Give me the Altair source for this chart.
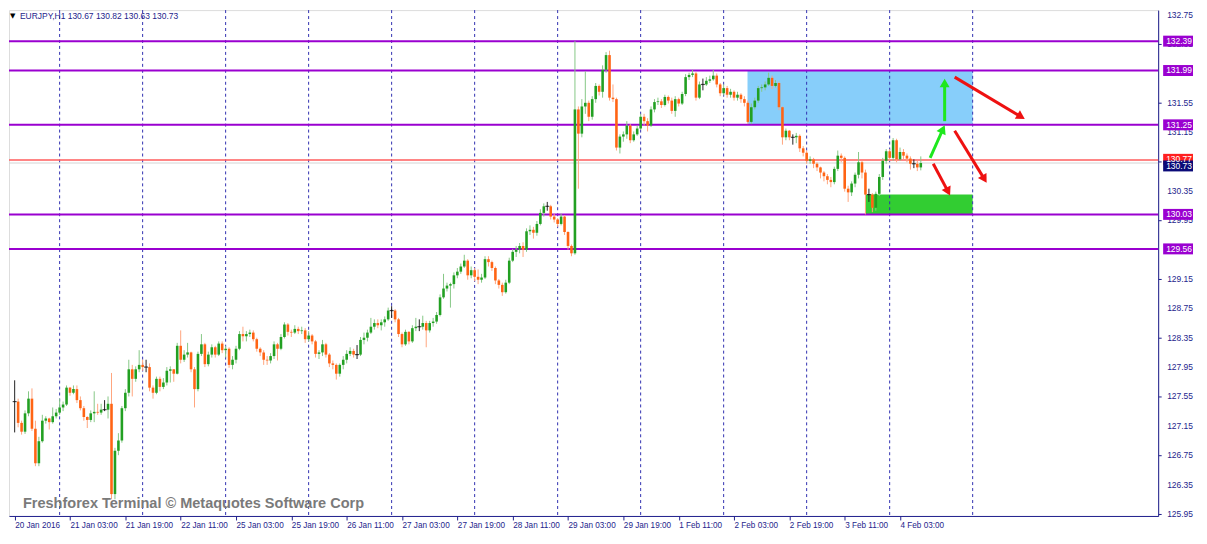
import altair as alt
import pandas as pd

# ---------------- data (EURJPY H1, 20 Jan 11:00 .. 4 Feb 09:00) -------------
closes = [
    127.48, 127.19, 127.07, 127.32, 127.52, 127.11, 126.64, 126.94, 127.22, 127.25,
    127.20, 127.28, 127.33, 127.40, 127.44, 127.67, 127.60, 127.65, 127.50, 127.39,
    127.27, 127.23, 127.32, 127.34, 127.33, 127.37, 127.37, 127.45, 126.22, 126.81,
    126.95, 127.39, 127.60, 127.92, 127.79, 127.92, 127.98, 127.95, 127.95, 127.67,
    127.60, 127.79, 127.68, 127.74, 127.90, 127.92, 127.86, 128.24, 128.05, 128.12,
    128.15, 127.92, 127.65, 128.13, 128.26, 127.99, 128.12, 128.22, 128.12, 128.27,
    128.18, 128.20, 127.98, 128.05, 128.20, 128.40, 128.37, 128.40, 128.42, 128.33,
    128.20, 128.15, 128.05, 128.04, 128.10, 128.26, 128.20, 128.36, 128.53, 128.43,
    128.42, 128.47, 128.44, 128.45, 128.33, 128.38, 128.30, 128.13, 128.15, 128.26,
    128.12, 128.00, 127.98, 127.86, 127.98, 128.05, 128.13, 128.17, 128.12, 128.12,
    128.32, 128.35, 128.42, 128.50, 128.55, 128.52, 128.56, 128.60, 128.72, 128.72,
    128.60, 128.40, 128.26, 128.43, 128.30, 128.48, 128.50, 128.50, 128.55, 128.45,
    128.55, 128.57, 128.66, 128.90, 129.02, 129.06, 129.08, 129.20, 129.25, 129.32,
    129.40, 129.20, 129.27, 129.18, 129.14, 129.17, 129.42, 129.38, 129.30, 129.13,
    129.07, 128.97, 129.10, 129.40, 129.52, 129.55, 129.60, 129.55, 129.80, 129.82,
    129.78, 129.90, 130.05, 130.14, 130.14, 130.00, 129.96, 129.90, 130.00, 129.79,
    129.60, 129.50, 131.46, 131.13, 131.50, 131.55, 131.36, 131.60, 131.78, 131.70,
    132.00, 132.20, 131.62, 131.60, 130.94, 131.09, 131.12, 131.24, 131.04, 131.12,
    131.20, 131.36, 131.30, 131.24, 131.46, 131.56, 131.57, 131.52, 131.63, 131.58,
    131.44, 131.60, 131.54, 131.67, 131.90, 131.93, 131.95, 131.62, 131.80, 131.80,
    131.85, 131.87, 131.92, 131.80, 131.68, 131.75, 131.66, 131.70, 131.62, 131.66,
    131.60, 131.55, 131.29, 131.49, 131.58, 131.75, 131.76, 131.80, 131.89, 131.78,
    131.82, 131.49, 131.08, 131.17, 131.08, 131.08, 131.10, 130.93, 130.87, 130.76,
    130.78, 130.72, 130.67, 130.60, 130.55, 130.50, 130.47, 130.65, 130.83, 130.80,
    130.38, 130.33, 130.45, 130.57, 130.74, 130.60, 130.30, 130.30, 130.12, 130.31,
    130.54, 130.76, 130.89, 130.80, 131.04, 130.78, 130.88, 130.83, 130.79, 130.72,
    130.72, 130.67, 130.73,
]
highs = [
    127.77, 127.52, 127.22, 127.36, 127.62, 127.66, 127.22, 127.00, 127.30, 127.28,
    127.26, 127.40, 127.38, 127.52, 127.48, 127.70, 127.68, 127.70, 127.70, 127.55,
    127.42, 127.28, 127.36, 127.62, 127.45, 127.45, 127.50, 127.55, 127.87, 126.85,
    127.05, 127.42, 127.65, 128.05, 127.98, 127.96, 128.18, 128.05, 128.05, 128.00,
    127.70, 127.82, 127.82, 127.80, 127.95, 127.96, 127.92, 128.28, 128.45, 128.18,
    128.28, 128.16, 127.95, 128.16, 128.40, 128.28, 128.16, 128.26, 128.24, 128.30,
    128.30, 128.24, 128.22, 128.10, 128.24, 128.44, 128.50, 128.44, 128.46, 128.45,
    128.35, 128.22, 128.18, 128.10, 128.14, 128.30, 128.28, 128.40, 128.56, 128.55,
    128.46, 128.52, 128.50, 128.50, 128.48, 128.44, 128.40, 128.32, 128.18, 128.32,
    128.28, 128.14, 128.04, 128.00, 128.00, 128.10, 128.18, 128.22, 128.20, 128.25,
    128.36, 128.42, 128.46, 128.62, 128.60, 128.60, 128.60, 128.64, 128.76, 128.78,
    128.74, 128.62, 128.42, 128.46, 128.44, 128.52, 128.62, 128.60, 128.65, 128.58,
    128.58, 128.62, 128.70, 128.94, 129.22, 129.10, 129.10, 129.24, 129.30, 129.36,
    129.48, 129.42, 129.32, 129.30, 129.28, 129.22, 129.46, 129.46, 129.40, 129.32,
    129.15, 129.10, 129.14, 129.44, 129.56, 129.60, 129.64, 129.65, 129.84, 129.88,
    129.86, 129.94, 130.10, 130.18, 130.20, 130.16, 130.04, 129.98, 130.04, 130.02,
    129.80, 129.62, 132.39, 131.50, 131.60, 131.98, 131.58, 131.64, 131.82, 131.80,
    132.06, 132.24, 132.26, 131.80, 131.62, 131.12, 131.16, 131.30, 131.26, 131.16,
    131.24, 131.40, 131.40, 131.34, 131.50, 131.60, 131.62, 131.60, 131.66, 131.65,
    131.62, 131.64, 131.62, 131.70, 131.94, 131.96, 132.00, 131.97, 131.84, 131.88,
    131.90, 131.92, 132.00, 131.95, 131.82, 131.80, 131.78, 131.74, 131.72, 131.70,
    131.68, 131.64, 131.58, 131.54, 131.62, 131.78, 131.80, 131.84, 131.96, 131.92,
    131.86, 131.84, 131.50, 131.20, 131.18, 131.12, 131.14, 131.12, 130.96, 130.90,
    130.82, 130.80, 130.74, 130.68, 130.62, 130.58, 130.54, 130.68, 130.90, 130.86,
    130.82, 130.42, 130.48, 130.60, 130.88, 130.76, 130.64, 130.38, 130.32, 130.34,
    130.58, 130.80, 130.92, 130.92, 131.07, 131.06, 130.94, 130.92, 130.86, 130.82,
    130.78, 130.76, 130.82,
]
lows = [
    127.06, 127.13, 127.03, 127.04, 127.28, 127.08, 126.60, 126.60, 126.92, 127.18,
    127.10, 127.18, 127.25, 127.30, 127.35, 127.42, 127.56, 127.58, 127.46, 127.36,
    127.22, 127.12, 127.20, 127.20, 127.30, 127.30, 127.35, 127.25, 126.15, 126.15,
    126.75, 126.92, 127.35, 127.55, 127.55, 127.75, 127.88, 127.90, 127.88, 127.62,
    127.52, 127.58, 127.62, 127.65, 127.70, 127.74, 127.75, 127.85, 128.00, 128.02,
    128.08, 127.88, 127.40, 127.62, 128.10, 127.95, 127.96, 128.08, 128.08, 128.10,
    128.14, 128.08, 127.94, 127.92, 128.00, 128.18, 128.30, 128.30, 128.36, 128.30,
    128.16, 128.10, 127.98, 127.98, 128.00, 128.06, 128.04, 128.18, 128.34, 128.38,
    128.36, 128.40, 128.40, 128.40, 128.28, 128.30, 128.26, 128.08, 128.06, 128.10,
    128.08, 127.95, 127.92, 127.78, 127.82, 127.92, 128.00, 128.10, 128.08, 128.06,
    128.10, 128.26, 128.30, 128.40, 128.46, 128.48, 128.45, 128.50, 128.58, 128.62,
    128.56, 128.36, 128.22, 128.24, 128.26, 128.28, 128.44, 128.44, 128.46, 128.22,
    128.42, 128.50, 128.54, 128.64, 128.88, 128.98, 128.76, 129.02, 129.16, 129.22,
    129.30, 129.14, 129.16, 129.12, 129.08, 129.10, 129.15, 129.32, 129.26, 129.08,
    129.02, 128.92, 128.95, 129.08, 129.38, 129.45, 129.50, 129.45, 129.52, 129.75,
    129.70, 129.74, 129.88, 130.00, 130.08, 129.96, 129.92, 129.86, 129.88, 129.75,
    129.55, 129.46, 129.48, 130.38, 131.08, 131.40, 131.30, 131.32, 131.55, 131.65,
    131.62, 131.96, 131.58, 131.56, 130.90, 130.86, 131.02, 131.06, 131.00, 131.02,
    131.10, 131.18, 131.24, 131.16, 131.22, 131.42, 131.52, 131.48, 131.50, 131.54,
    131.40, 131.36, 131.50, 131.52, 131.64, 131.86, 131.90, 131.58, 131.60, 131.72,
    131.78, 131.82, 131.85, 131.76, 131.64, 131.65, 131.62, 131.62, 131.58, 131.58,
    131.55, 131.50, 131.26, 131.26, 131.46, 131.55, 131.70, 131.72, 131.78, 131.74,
    131.76, 131.45, 130.98, 131.04, 131.04, 130.98, 131.00, 130.88, 130.82, 130.72,
    130.72, 130.66, 130.62, 130.52, 130.48, 130.44, 130.40, 130.44, 130.62, 130.74,
    130.34, 130.20, 130.28, 130.40, 130.52, 130.52, 130.03, 130.20, 130.06, 130.08,
    130.28, 130.50, 130.72, 130.76, 130.76, 130.74, 130.76, 130.78, 130.74, 130.64,
    130.66, 130.62, 130.63,
]

x_tick_bars = [0, 16, 32, 48, 64, 80, 96, 112, 128, 144, 160, 176, 192, 208, 224, 240, 256]
x_tick_labels = ["20 Jan 2016", "21 Jan 03:00", "21 Jan 19:00", "22 Jan 11:00", "25 Jan 03:00",
                 "25 Jan 19:00", "26 Jan 11:00", "27 Jan 03:00", "27 Jan 19:00", "28 Jan 11:00",
                 "29 Jan 03:00", "29 Jan 19:00", "1 Feb 11:00", "2 Feb 03:00", "2 Feb 19:00",
                 "3 Feb 11:00", "4 Feb 03:00"]
day_grid_bars = [13, 37, 61, 85, 109, 133, 157, 181, 205, 229, 253, 277]
y_ticks = [125.95, 126.35, 126.75, 127.15, 127.55, 127.95, 128.35, 128.75, 129.15,
           129.55, 129.95, 130.35, 130.75, 131.15, 131.55, 131.95, 132.35, 132.75]
level_prices = [132.39, 131.99, 131.25, 130.03, 129.56]
ask_price = 130.77
bid_price = 130.73
# vertical centre of each price box on the right axis, as seen in the picture
box_centres = [132.39, 131.99, 131.25, 130.03, 129.56, 130.78, 130.69]

zone_x0 = [211.9, 246.0]
zone_x1 = [277.0, 277.0]
zone_lo = [131.25, 130.03]
zone_hi = [131.99, 130.30]
zone_color = ["#87CEFA", "#32CD32"]

arrow_x0 = [264.7, 268.9, 265.6, 271.8, 271.8]
arrow_y0 = [130.80, 131.30, 130.72, 131.17, 131.90]
arrow_x1 = [268.4, 268.9, 269.9, 280.4, 291.0]
arrow_y1 = [131.19, 131.82, 130.34, 130.51, 131.36]
arrow_angle = [25, 0, 153, 149, 121]
arrow_color = ["#1EE81E", "#1EE81E", "#EE1111", "#EE1111", "#EE1111"]

header = "EURJPY,H1  130.67 130.82 130.63 130.73"
watermark = "Freshforex Terminal \u00a9 Metaquotes Software Corp"

# ---------------- build tables ----------------
W, H = 1154, 508
FONT = "Liberation Sans"
NAVY = "#1E1E8C"

n = len(closes)
opens = [closes[0]] + closes[:-1]
df = pd.DataFrame({"i": list(range(n)), "open": opens, "close": closes,
                   "high": highs, "low": lows})
df["dir"] = ["up" if c > o else ("down" if c < o else "doji") for o, c in zip(df["open"], df["close"])]
body_cols = {"up": "#22A022", "down": "#FF6414", "doji": "#000000"}
wick_cols = {"up": "#86C886", "down": "#FFA57E", "doji": "#222222"}
df["bc"] = df["dir"].map(body_cols)
df["wc"] = df["dir"].map(wick_cols)

xscale = alt.Scale(domain=[-0.2, 329.2], nice=False, zero=False)
yscale = alt.Scale(domain=[125.922, 132.813], nice=False, zero=False)

label_js = "[" + ",".join("'" + s + "'" for s in x_tick_labels) + "][round(datum.value/16)]"

X = alt.X("i:Q", scale=xscale,
          axis=alt.Axis(values=x_tick_bars, labelExpr=label_js, grid=False, title=None,
                        labelAlign="left", labelFont=FONT, labelFontSize=8.2, labelColor=NAVY,
                        tickColor=NAVY, domainColor=NAVY, tickSize=4, labelPadding=2,
                        labelOverlap=False, labelFlush=False))
Y = alt.Y("low:Q", scale=yscale,
          axis=alt.Axis(orient="right", values=y_ticks, grid=False, title=None, labels=False,
                        tickColor=NAVY, domainColor=NAVY, tickSize=3))


def xq(field):
    return alt.X(field, scale=xscale)


def yq(field):
    return alt.Y(field, scale=yscale)


wick_layer = alt.Chart(df).mark_rule(strokeWidth=1).encode(
    x=X, y=Y, y2="high:Q", color=alt.Color("wc:N", scale=None))

zones = pd.DataFrame({"x0": zone_x0, "x1": zone_x1, "lo": zone_lo, "hi": zone_hi, "c": zone_color})
zone_layer = alt.Chart(zones).mark_rect().encode(
    x=xq("x0:Q"), x2="x1:Q", y=yq("lo:Q"), y2="hi:Q",
    color=alt.Color("c:N", scale=None))

grid_layer = alt.Chart(pd.DataFrame({"g": day_grid_bars})).mark_rule(
    color="#3030B0", strokeWidth=1, strokeDash=[3, 3]).encode(x=xq("g:Q"))

bid_layer = alt.Chart(pd.DataFrame({"p": [bid_price]})).mark_rule(
    color="#D4D4D4", strokeWidth=1).encode(y=yq("p:Q"))
ask_layer = alt.Chart(pd.DataFrame({"p": [ask_price]})).mark_rule(
    color="#FF5C5C", strokeWidth=1.5).encode(y=yq("p:Q"))
level_layer = alt.Chart(pd.DataFrame({"p": level_prices})).mark_rule(
    color="#9A00D0", strokeWidth=2).encode(y=yq("p:Q"))

body_layer = alt.Chart(df).transform_filter("datum.dir != 'doji'").mark_bar(
    size=2.6, orient="vertical").encode(
    x=xq("i:Q"), y=yq("open:Q"), y2="close:Q",
    color=alt.Color("bc:N", scale=None))
doji_layer = alt.Chart(df).transform_filter("datum.dir == 'doji'").mark_tick(
    orient="horizontal", size=4, thickness=1.2, color="#000000").encode(
    x=xq("i:Q"), y=yq("close:Q"))

arrows = pd.DataFrame({"x0": arrow_x0, "y0": arrow_y0, "x1": arrow_x1, "y1": arrow_y1,
                       "a": arrow_angle, "c": arrow_color})
arrow_line = alt.Chart(arrows).mark_rule(strokeWidth=3).encode(
    x=xq("x0:Q"), y=yq("y0:Q"), x2="x1:Q", y2="y1:Q",
    color=alt.Color("c:N", scale=None))
arrow_head = alt.Chart(arrows).mark_point(shape="triangle-up", filled=True, size=100, opacity=1).encode(
    x=xq("x1:Q"), y=yq("y1:Q"),
    angle=alt.Angle("a:Q", scale=None), color=alt.Color("c:N", scale=None))

# right-hand price scale labels
ylab = pd.DataFrame({"p": y_ticks, "t": ["%.2f" % v for v in y_ticks]})
ylab_layer = alt.Chart(ylab).mark_text(align="left", baseline="middle", font=FONT, fontSize=8.5,
                                       color=NAVY, clip=False).encode(
    x=alt.value(W + 9), y=yq("p:Q"), text="t:N")

box_prices = level_prices + [ask_price, bid_price]
box_text = ["%.2f" % p for p in box_prices]
box_col = ["#9A00D0"] * len(level_prices) + ["#FF2020", "#0A0A78"]
boxes = pd.DataFrame({"p": box_centres, "t": box_text, "c": box_col,
                      "o": list(range(len(box_prices)))})
box_layer = alt.Chart(boxes).mark_rule(strokeWidth=11, strokeCap="butt", clip=False).encode(
    x=alt.value(W + 5), x2=alt.value(W + 35), y=yq("p:Q"),
    color=alt.Color("c:N", scale=None), order="o:Q")
box_label = alt.Chart(boxes).mark_text(align="left", baseline="middle", color="white",
                                       font=FONT, fontSize=8.5, clip=False).encode(
    x=alt.value(W + 8), y=yq("p:Q"), text="t:N", order="o:Q")

tri_layer = alt.Chart(pd.DataFrame({"t": ["\u25bc"]})).mark_text(
    align="left", baseline="middle", font="DejaVu Sans", fontSize=7, color="#000000").encode(
    x=alt.value(1), y=alt.value(6), text="t:N")
header_layer = alt.Chart(pd.DataFrame({"t": [header]})).mark_text(
    align="left", baseline="middle", font=FONT, fontSize=8.5, color=NAVY).encode(
    x=alt.value(11), y=alt.value(6), text="t:N")
water_layer = alt.Chart(pd.DataFrame({"t": [watermark]})).mark_text(
    align="left", baseline="middle", font=FONT, fontSize=14.6, fontWeight="bold",
    color="#7A7A7A").encode(x=alt.value(14), y=alt.value(H - 12), text="t:N")

chart = alt.layer(
    wick_layer.mark_rule(strokeWidth=0, opacity=0),
    zone_layer, grid_layer, bid_layer, ask_layer, level_layer,
    wick_layer, body_layer, doji_layer, arrow_line, arrow_head,
    ylab_layer, box_layer, box_label, tri_layer, header_layer, water_layer,
).properties(width=W, height=H, padding=0).configure_view(
    stroke="#5A5AB4", strokeWidth=1
).configure(background="white")

chart.save("out.html", embed_options={"renderer": "svg", "actions": False})
